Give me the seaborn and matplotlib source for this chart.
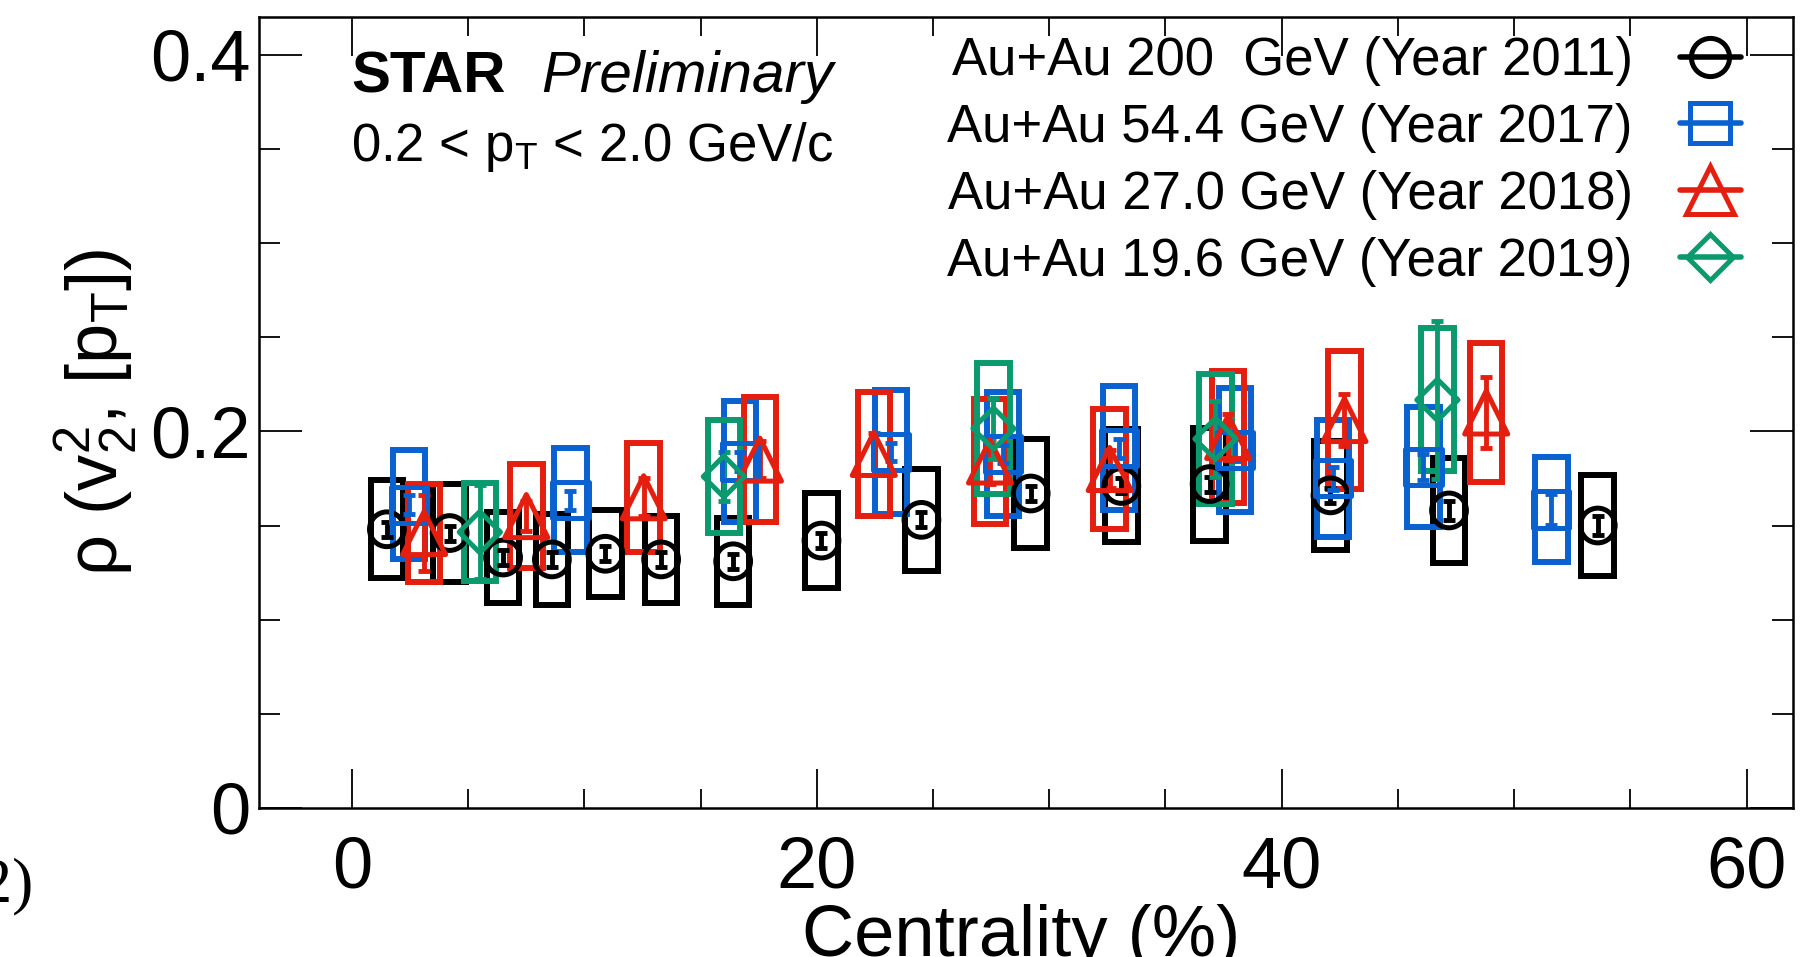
import numpy as np
import pandas as pd
import matplotlib
matplotlib.use("Agg")
import matplotlib.pyplot as plt
import seaborn as sns
from matplotlib.patches import Rectangle
from matplotlib.lines import Line2D
from matplotlib.ticker import MultipleLocator, FixedLocator

# ---------------- data ----------------
cent_200 = [1.5, 4.2, 6.5, 8.6, 10.9, 13.3, 16.4, 20.2, 24.5, 29.2, 33.1, 36.9, 42.1, 47.2, 53.6]
rho_200 = [0.148, 0.146, 0.133, 0.132, 0.135, 0.132, 0.131, 0.142, 0.153, 0.167, 0.171, 0.172, 0.166, 0.158, 0.150]
stat_200 = [0.004, 0.004, 0.004, 0.004, 0.004, 0.004, 0.004, 0.004, 0.004, 0.004, 0.004, 0.004, 0.004, 0.005, 0.005]
sys_200 = [0.026, 0.026, 0.024, 0.024, 0.023, 0.023, 0.023, 0.025, 0.027, 0.029, 0.030, 0.030, 0.029, 0.028, 0.027]

cent_54 = [2.45, 9.4, 16.7, 23.2, 28.0, 33.0, 38.0, 42.2, 46.1, 51.6]
rho_54 = [0.161, 0.1635, 0.184, 0.189, 0.188, 0.191, 0.190, 0.175, 0.181, 0.1585]
stat_54 = [0.005, 0.005, 0.005, 0.005, 0.005, 0.005, 0.006, 0.006, 0.007, 0.008]
sys_54 = [0.029, 0.0275, 0.032, 0.033, 0.033, 0.033, 0.033, 0.031, 0.032, 0.028]

cent_27 = [3.1, 7.5, 12.55, 17.55, 22.45, 27.45, 32.6, 37.7, 42.7, 48.8]
rho_27 = [0.146, 0.155, 0.165, 0.185, 0.188, 0.184, 0.180, 0.197, 0.206, 0.210]
stat_27 = [0.020, 0.008, 0.010, 0.010, 0.011, 0.012, 0.010, 0.012, 0.014, 0.019]
sys_27 = [0.026, 0.0275, 0.029, 0.033, 0.033, 0.033, 0.032, 0.035, 0.0365, 0.037]

cent_19 = [5.5, 16.0, 27.6, 37.15, 46.7]
rho_19 = [0.1465, 0.176, 0.2015, 0.196, 0.2167]
stat_19 = [0.025, 0.013, 0.016, 0.020, 0.042]
sys_19 = [0.026, 0.030, 0.035, 0.0345, 0.038]

labels = ["Au+Au 200  GeV (Year 2011)", "Au+Au 54.4 GeV (Year 2017)",
          "Au+Au 27.0 GeV (Year 2018)", "Au+Au 19.6 GeV (Year 2019)"]
x_ticks = [0, 20, 40, 60]
y_ticks = [0, 0.2, 0.4]
y_tick_labels = ["0", "0.2", "0.4"]

# ---------------- style ----------------
sns.set_theme(style="ticks", rc={"text.color": "black", "axes.labelcolor": "black",
                                 "xtick.color": "black", "ytick.color": "black",
                                 "axes.edgecolor": "black"})
plt.rcParams["font.family"] = ["Liberation Sans", "DejaVu Sans"]
plt.rcParams["mathtext.fontset"] = "custom"
plt.rcParams["mathtext.rm"] = "Liberation Sans"
plt.rcParams["mathtext.it"] = "Liberation Sans:italic"
plt.rcParams["mathtext.default"] = "regular"

colors = ["#000000", "#0a62d0", "#e41f10", "#0a9a6d"]
markers = ["o", "s", "^", "D"]
msizes = [25, 26, 31, 21]        # points
series = [
    (cent_200, rho_200, stat_200, sys_200),
    (cent_54, rho_54, stat_54, sys_54),
    (cent_27, rho_27, stat_27, sys_27),
    (cent_19, rho_19, stat_19, sys_19),
]

fig = plt.figure(figsize=(18.04, 9.57), dpi=100)
ax = fig.add_axes([0.1436, 0.1557, 0.8503, 0.8265])

half_w = 0.70
box_lw = 4.3
# systematic boxes
for (cx, cy, st, sy), col in zip(series, colors):
    for xv, yv, sv in zip(cx, cy, sy):
        ax.add_patch(Rectangle((xv - half_w, yv - sv), 2 * half_w, 2 * sv,
                               fill=False, edgecolor=col, linewidth=box_lw, zorder=2))

# statistical errors and markers
for (cx, cy, st, sy), col, mk, ms in zip(series, colors, markers, msizes):
    ax.errorbar(cx, cy, yerr=st, fmt="none", ecolor=col, elinewidth=3.5,
                capsize=4, capthick=3.5, zorder=3)
    df = pd.DataFrame({"cent": cx, "rho": cy})
    sns.scatterplot(data=df, x="cent", y="rho", marker=mk, s=ms ** 2,
                    color=col, ax=ax, zorder=4, legend=False)
    coll = ax.collections[-1]
    coll.set_facecolor("none")
    coll.set_edgecolor(col)
    coll.set_linewidth(3.6)

ax.set_xlim(-4, 62)
ax.set_ylim(0, 0.42)

ax.xaxis.set_major_locator(FixedLocator(x_ticks))
ax.xaxis.set_minor_locator(MultipleLocator(5))
ax.yaxis.set_major_locator(FixedLocator(y_ticks))
ax.yaxis.set_minor_locator(MultipleLocator(0.05))
ax.set_yticklabels(y_tick_labels)

ax.tick_params(axis="both", which="both", direction="in", top=True, right=True,
               width=1.3, color="black")
ax.tick_params(axis="x", which="major", length=28, labelsize=52, pad=20)
ax.tick_params(axis="x", which="minor", length=14)
ax.tick_params(axis="y", which="major", length=31, labelsize=52, pad=6)
ax.tick_params(axis="y", which="minor", length=15)
for sp in ax.spines.values():
    sp.set_linewidth(1.8)
    sp.set_color("black")

ax.set_xlabel("Centrality (%)", fontsize=52)
ax.xaxis.set_label_coords(0.497, -0.122)
ax.set_ylabel("ρ (v$_{2}^{2}$, [p$_{T}$])", fontsize=52)
ax.yaxis.set_label_coords(-0.078, 0.5)

ax.text(0.060, 0.905, "STAR", transform=ax.transAxes, fontsize=42,
        fontweight="bold", va="baseline", ha="left")
ax.text(0.184, 0.905, "Preliminary", transform=ax.transAxes, fontsize=42,
        fontstyle="italic", va="baseline", ha="left")
ax.text(0.060, 0.818, "0.2 < p$_{T}$ < 2.0 GeV/c", transform=ax.transAxes,
        fontsize=38, va="baseline", ha="left")

handles = [Line2D([0], [0], color=c, marker=m, markersize=ms * 1.1, markerfacecolor="none",
                  markeredgecolor=c, markeredgewidth=3.6, linewidth=4)
           for c, m, ms in zip(colors, markers, msizes)]
ax.legend(handles, labels, loc="upper right", bbox_to_anchor=(0.966, 0.976),
          markerfirst=False, frameon=False, fontsize=38, handlelength=1.15,
          handletextpad=0.9, labelspacing=0.32, borderpad=0, borderaxespad=0)

fig.text(33 / 1804, 0.0585, "(2)", fontsize=46, family="Liberation Serif",
         ha="right", va="baseline")

fig.savefig("out.png", dpi=100)
